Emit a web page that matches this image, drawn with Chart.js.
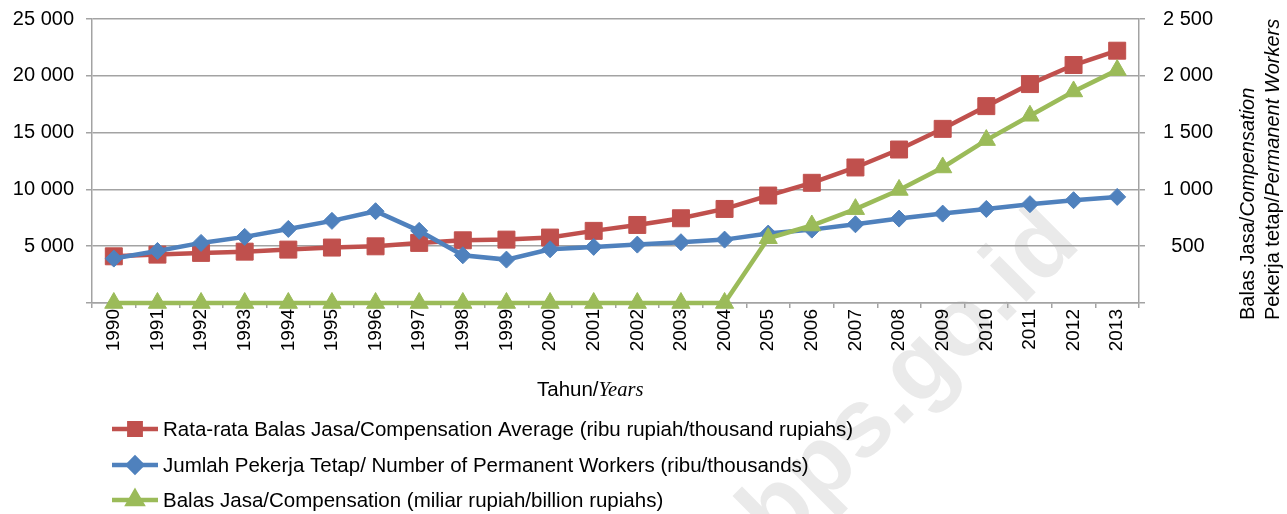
<!DOCTYPE html>
<html>
<head>
<meta charset="utf-8">
<script src="https://cdn.jsdelivr.net/npm/chart.js@4.4.1/dist/chart.umd.min.js"></script>
<style>
  html, body { margin: 0; padding: 0; background: #ffffff; }
  #wrap { width: 1287px; height: 514px; position: relative; }
</style>
</head>
<body>
<div id="wrap"><canvas id="c" width="1287" height="514"></canvas></div>
<script>
// ---- Data ----
const years = ['1990','1991','1992','1993','1994','1995','1996','1997','1998','1999','2000','2001','2002','2003','2004','2005','2006','2007','2008','2009','2010','2011','2012','2013'];
// Rata-rata Balas Jasa (ribu rupiah) - left axis
const compensationAverage = [4110, 4260, 4410, 4520, 4700, 4880, 4990, 5290, 5520, 5580, 5760, 6350, 6870, 7460, 8280, 9460, 10580, 11930, 13510, 15330, 17330, 19270, 20950, 22210];
// Jumlah Pekerja Tetap (ribu) - right axis
const permanentWorkers = [391, 458, 529, 582, 652, 723, 808, 635, 420, 382, 473, 494, 514, 535, 558, 611, 646, 693, 743, 787, 828, 870, 905, 934];
// Balas Jasa (miliar rupiah) - right axis
const compensation = [0, 0, 0, 0, 0, 0, 0, 0, 0, 0, 0, 0, 0, 0, 0, 570, 682, 826, 995, 1193, 1434, 1648, 1862, 2050];

const leftTicks = [0, 5000, 10000, 15000, 20000, 25000];
const rightTicks = [0, 500, 1000, 1500, 2000, 2500];

const seriesLabels = [
  'Rata-rata Balas Jasa/Compensation Average (ribu rupiah/thousand rupiahs)',
  'Jumlah Pekerja Tetap/ Number of Permanent Workers (ribu/thousands)',
  'Balas Jasa/Compensation (miliar rupiah/billion rupiahs)'
];

const RED = '#C0504D', BLUE = '#4F81BD', GREEN = '#9BBB59';
const GRID = '#a3a3a3';
const SANS = '"Liberation Sans", Arial, sans-serif';
const SERIF = '"Liberation Serif", "Times New Roman", serif';

function fmt(v) {
  if (v === 0) return '';
  return String(v).replace(/\B(?=(\d{3})+(?!\d))/g, ' ');
}

const extras = {
  id: 'extras',
  beforeDraw(chart) {
    const ctx = chart.ctx;
    ctx.save();
    ctx.fillStyle = '#ffffff';
    ctx.fillRect(0, 0, chart.width, chart.height);
    // watermark
    ctx.translate(930, 398);
    ctx.rotate(-45 * Math.PI / 180);
    ctx.font = 'bold 97px ' + SANS;
    ctx.fillStyle = '#eaeaea';
    ctx.textAlign = 'center';
    ctx.textBaseline = 'alphabetic';
    ctx.fillText('bps.go.id', 0, 0);
    ctx.restore();
  },
  afterDraw(chart) {
    const ctx = chart.ctx;
    ctx.save();
    ctx.fillStyle = '#000000';
    // x axis title: Tahun/Years
    ctx.textBaseline = 'middle';
    ctx.textAlign = 'left';
    ctx.font = '20.5px ' + SANS;
    let x = 537;
    ctx.fillText('Tahun/', x, 390);
    x += ctx.measureText('Tahun/').width;
    ctx.font = 'italic 20.5px ' + SERIF;
    ctx.fillText('Years', x, 391);

    // right axis title (two rotated lines)
    const lines = [
      ['Balas Jasa/', 'Compensation', 1248],
      ['Pekerja tetap/', 'Permanent Workers', 1273]
    ];
    lines.forEach(([a, b, lx]) => {
      ctx.save();
      ctx.translate(lx, 320);
      ctx.rotate(-Math.PI / 2);
      ctx.textAlign = 'left';
      ctx.textBaseline = 'middle';
      ctx.font = '20px ' + SANS;
      ctx.fillText(a, 0, 0);
      const w = ctx.measureText(a).width;
      ctx.font = 'italic 20px ' + SANS;
      ctx.fillText(b, w, 0);
      ctx.restore();
    });

    // legend
    const rows = [429, 465, 500];
    const colors = [RED, BLUE, GREEN];
    const styles = ['rect', 'rectRot', 'triangle'];
    const radii = [8, 7, 8];
    rows.forEach((ry, i) => {
      ctx.strokeStyle = colors[i];
      ctx.lineWidth = 4.5;
      ctx.lineCap = 'butt';
      ctx.beginPath();
      ctx.moveTo(112, ry);
      ctx.lineTo(158, ry);
      ctx.stroke();
      ctx.fillStyle = colors[i];
      Chart.helpers.drawPoint(ctx, { pointStyle: styles[i], radius: radii[i], rotation: 0, borderWidth: 1 }, 135, ry);
      ctx.fill();
      ctx.fillStyle = '#000000';
      ctx.font = '20.5px ' + SANS;
      ctx.textAlign = 'left';
      ctx.textBaseline = 'middle';
      ctx.fillText(seriesLabels[i], 163, ry + 1);
    });
    ctx.restore();
  }
};

function zeroPad(scale) {
  scale.paddingTop = 0;
  scale.paddingBottom = 0;
}

const chart = new Chart(document.getElementById('c'), {
  type: 'line',
  data: {
    labels: years,
    datasets: [
      {
        label: seriesLabels[0],
        data: compensationAverage,
        yAxisID: 'y',
        borderColor: RED,
        backgroundColor: RED,
        borderWidth: 4.5,
        pointStyle: 'rect',
        pointRadius: 12,
        pointBorderWidth: 1,
        pointBorderColor: RED,
        pointBackgroundColor: RED,
        tension: 0,
        clip: false,
        order: 2
      },
      {
        label: seriesLabels[1],
        data: permanentWorkers,
        yAxisID: 'y1',
        borderColor: BLUE,
        backgroundColor: BLUE,
        borderWidth: 4.5,
        pointStyle: 'rectRot',
        pointRadius: 8.5,
        pointBorderWidth: 1,
        pointBorderColor: BLUE,
        pointBackgroundColor: BLUE,
        tension: 0,
        clip: false,
        order: 1
      },
      {
        label: seriesLabels[2],
        data: compensation,
        yAxisID: 'y1',
        borderColor: GREEN,
        backgroundColor: GREEN,
        borderWidth: 4.5,
        pointStyle: 'triangle',
        pointRadius: 10.5,
        pointBorderWidth: 1,
        pointBorderColor: GREEN,
        pointBackgroundColor: GREEN,
        tension: 0,
        clip: false,
        order: 0
      }
    ]
  },
  options: {
    responsive: false,
    animation: false,
    devicePixelRatio: 1,
    layout: { padding: { top: 19, left: 0, right: 0, bottom: 0 } },
    plugins: {
      legend: { display: false },
      tooltip: { enabled: false },
      title: { display: false }
    },
    scales: {
      x: {
        type: 'category',
        offset: true,
        grid: {
          offset: true,
          drawOnChartArea: false,
          drawTicks: true,
          tickLength: 5,
          color: GRID,
          lineWidth: 1.5
        },
        border: { display: true, color: GRID, width: 1.5 },
        ticks: {
          autoSkip: false,
          minRotation: 90,
          maxRotation: 90,
          padding: 1,
          color: '#000000',
          font: { family: SANS, size: 19 }
        },
        afterFit(scale) { scale.height = 211; }
      },
      y: {
        position: 'left',
        min: 0,
        max: 25000,
        afterBuildTicks(scale) { scale.ticks = leftTicks.map(v => ({ value: v })); },
        grid: {
          drawOnChartArea: true,
          drawTicks: true,
          tickLength: 6,
          color: GRID,
          lineWidth: 1.5
        },
        border: { display: true, color: GRID, width: 1.5 },
        ticks: {
          padding: 12,
          color: '#000000',
          font: { family: SANS, size: 20 },
          callback: (v) => fmt(v)
        },
        afterFit(scale) { scale.width = 92; zeroPad(scale); }
      },
      y1: {
        position: 'right',
        min: 0,
        max: 2500,
        afterBuildTicks(scale) { scale.ticks = rightTicks.map(v => ({ value: v })); },
        grid: {
          drawOnChartArea: false,
          drawTicks: true,
          tickLength: 6,
          color: GRID,
          lineWidth: 1.5
        },
        border: { display: true, color: GRID, width: 1.5 },
        ticks: {
          padding: 18,
          crossAlign: 'center',
          color: '#000000',
          font: { family: SANS, size: 20 },
          callback: (v) => fmt(v)
        },
        afterFit(scale) { scale.width = 148; zeroPad(scale); }
      }
    }
  },
  plugins: [extras]
});
</script>
</body>
</html>
